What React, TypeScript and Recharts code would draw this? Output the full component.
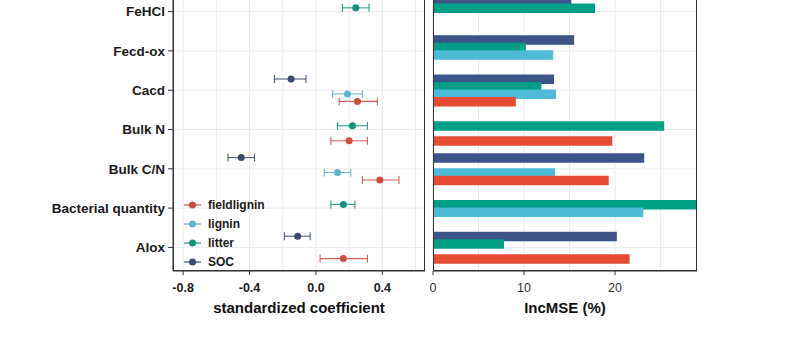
import {
  ScatterChart,
  Scatter,
  ErrorBar,
  BarChart,
  Bar,
  XAxis,
  YAxis,
  CartesianGrid,
} from "recharts";

const categories = [
  "FeHCl",
  "Fecd-ox",
  "Cacd",
  "Bulk N",
  "Bulk C/N",
  "Bacterial quantity",
  "Alox",
];

// standardized coefficients (point, lower, upper)
const socCoef = [null, null, -0.15, null, -0.45, null, -0.11];
const socLow = [null, null, -0.25, null, -0.53, null, -0.19];
const socHigh = [null, null, -0.06, null, -0.37, null, -0.035];
const litterCoef = [0.24, null, null, 0.22, null, 0.165, null];
const litterLow = [0.16, null, null, 0.13, null, 0.09, null];
const litterHigh = [0.32, null, null, 0.31, null, 0.235, null];
const ligninCoef = [null, null, 0.19, null, 0.13, null, null];
const ligninLow = [null, null, 0.1, null, 0.05, null, null];
const ligninHigh = [null, null, 0.28, null, 0.21, null, null];
const fieldCoef = [null, null, 0.25, 0.2, 0.385, null, 0.165];
const fieldLow = [null, null, 0.14, 0.09, 0.28, null, 0.025];
const fieldHigh = [null, null, 0.37, 0.31, 0.5, null, 0.31];

// IncMSE (%)
const socMse = [15.2, 15.5, 13.3, null, 23.2, null, 20.2];
const litterMse = [17.8, 10.2, 11.9, 25.4, null, 30, 7.8];
const ligninMse = [null, 13.2, 13.5, null, 13.4, 23.1, null];
const fieldMse = [null, null, 9.1, 19.7, 19.3, null, 21.6];

const coefDomain: [number, number] = [-0.861, 0.657];
const coefTicks = [-0.8, -0.4, 0, 0.4];
const coefGrid = [-0.8, -0.6, -0.4, -0.2, 0, 0.2, 0.4, 0.6];
const mseDomain: [number, number] = [0, 29];
const mseTicks = [0, 10, 20];
const mseGrid = [0, 5, 10, 15, 20, 25];

const FONT = "'Liberation Sans', Arial, sans-serif";

const COLORS = {
  SOC: "#3C5488",
  litter: "#00A087",
  lignin: "#4DBBD5",
  fieldlignin: "#E64B35",
};
const POINT = {
  SOC: "#3D4A6E",
  litter: "#15927A",
  lignin: "#5FB3C8",
  fieldlignin: "#CC4E3E",
};

const dodge = 0.19;

const makePoints = (
  coef: (number | null)[],
  low: (number | null)[],
  high: (number | null)[],
  slot: number,
) =>
  coef
    .map((c, i) =>
      c === null
        ? null
        : {
            x: c,
            y: i + (slot - 1.5) * dodge,
            err: [c - (low[i] as number), (high[i] as number) - c],
          },
    )
    .filter((d) => d !== null);

const socPts = makePoints(socCoef, socLow, socHigh, 0);
const litterPts = makePoints(litterCoef, litterLow, litterHigh, 1);
const ligninPts = makePoints(ligninCoef, ligninLow, ligninHigh, 2);
const fieldPts = makePoints(fieldCoef, fieldLow, fieldHigh, 3);

const barData = categories.map((name, i) => ({
  name,
  SOC: socMse[i],
  litter: litterMse[i],
  lignin: ligninMse[i],
  fieldlignin: fieldMse[i],
}));

const legendOrder = ["fieldlignin", "lignin", "litter", "SOC"] as const;

const Dot = (color: string) => (props: any) => (
  <circle cx={props.cx} cy={props.cy} r={3.5} fill={color} />
);

// vertical grid lines (major + minor) placed on the x scale
const gridX = (vals: number[], domain: [number, number]) => (p: any) => {
  const sc = p?.xAxis?.scale;
  if (typeof sc === "function") return vals.map((v) => sc(v));
  const left = p.offset.left;
  const w = p.offset.width;
  return vals.map((v) => left + ((v - domain[0]) / (domain[1] - domain[0])) * w);
};

const LegendBox = () => (
  <div style={{ fontFamily: FONT }}>
    {legendOrder.map((k) => (
      <div
        key={k}
        style={{ display: "flex", alignItems: "center", height: 19 }}
      >
        <svg width={18} height={12}>
          <line x1={0} x2={17} y1={6} y2={6} stroke={POINT[k]} strokeWidth={1.2} />
          <circle cx={8.5} cy={6} r={3.5} fill={POINT[k]} />
        </svg>
        <span
          style={{
            marginLeft: 6,
            fontSize: 12,
            fontWeight: "bold",
            color: "#1a1a1a",
          }}
        >
          {k}
        </span>
      </div>
    ))}
  </div>
);

const series = [
  { key: "SOC", pts: socPts },
  { key: "litter", pts: litterPts },
  { key: "lignin", pts: ligninPts },
  { key: "fieldlignin", pts: fieldPts },
] as const;

export default function App() {
  return (
    <div
      style={{
        position: "fixed",
        left: 0,
        top: 0,
        width: 798,
        height: 339,
        overflow: "hidden",
        background: "#fff",
        fontFamily: FONT,
      }}
    >
      <div style={{ position: "absolute", left: 0, top: -12 }}>
        <ScatterChart
          width={430}
          height={351}
          margin={{ top: 0, right: 5, bottom: 18, left: 0 }}
        >
          <CartesianGrid
            stroke="#EBEBEB"
            verticalCoordinatesGenerator={gridX(coefGrid, coefDomain)}
          />
          <XAxis
            type="number"
            dataKey="x"
            domain={coefDomain}
            ticks={coefTicks}
            interval={0}
            allowDataOverflow
            tickFormatter={(v: number) => v.toFixed(1)}
            tick={{ fontSize: 12.5, fontWeight: "bold", fill: "#1a1a1a", fontFamily: FONT }}
            tickSize={4}
            tickMargin={8}
            stroke="#333"
            height={50}
            label={{
              value: "standardized coefficient",
              position: "insideBottom",
              offset: 8,
              style: { fontSize: 15, fontWeight: "bold", fill: "#111", fontFamily: FONT },
            }}
          />
          <YAxis
            type="number"
            dataKey="y"
            domain={[-0.6, 6.6]}
            reversed
            ticks={[0, 1, 2, 3, 4, 5, 6]}
            interval={0}
            tickFormatter={(v: number) => categories[v]}
            tick={{ fontSize: 13.5, fontWeight: "bold", fill: "#1a1a1a", fontFamily: FONT }}
            tickSize={5}
            tickMargin={3}
            stroke="#333"
            width={173}
            allowDataOverflow
          />
          {series.map((s) => (
            <Scatter
              key={s.key}
              name={s.key}
              data={s.pts as any[]}
              fill={POINT[s.key]}
              shape={Dot(POINT[s.key])}
              isAnimationActive={false}
            >
              <ErrorBar
                dataKey="err"
                direction="x"
                width={4}
                stroke={POINT[s.key]}
                strokeWidth={1.1}
                strokeOpacity={0.9}
              />
            </Scatter>
          ))}
        </ScatterChart>
        <div style={{ position: "absolute", left: 184, top: 207 }}>
          <LegendBox />
        </div>
        <div
          style={{
            position: "absolute",
            left: 173,
            top: -2,
            width: 252,
            height: 285,
            border: "1.2px solid #333",
            boxSizing: "border-box",
            pointerEvents: "none",
          }}
        />
      </div>

      <div style={{ position: "absolute", left: 425, top: -12 }}>
        <BarChart
          layout="vertical"
          width={373}
          height={351}
          data={barData}
          margin={{ top: 0, right: 101, bottom: 18, left: 8 }}
          barSize={9.5}
          barGap={-2}
        >
          <CartesianGrid
            stroke="#EBEBEB"
            verticalCoordinatesGenerator={gridX(mseGrid, mseDomain)}
          />
          <XAxis
            type="number"
            domain={mseDomain}
            ticks={mseTicks}
            interval={0}
            allowDataOverflow
            tick={{ fontSize: 12.5, fill: "#333", fontFamily: FONT }}
            tickSize={4}
            tickMargin={8}
            stroke="#333"
            height={50}
            label={{
              value: "IncMSE (%)",
              position: "insideBottom",
              offset: 8,
              style: { fontSize: 15, fontWeight: "bold", fill: "#111", fontFamily: FONT },
            }}
          />
          <YAxis
            type="category"
            dataKey="name"
            hide
            padding={{ top: 3.9, bottom: 3.9 }}
          />
          <Bar dataKey="SOC" fill={COLORS.SOC} isAnimationActive={false} />
          <Bar dataKey="litter" fill={COLORS.litter} isAnimationActive={false} />
          <Bar dataKey="lignin" fill={COLORS.lignin} isAnimationActive={false} />
          <Bar
            dataKey="fieldlignin"
            fill={COLORS.fieldlignin}
            isAnimationActive={false}
          />
        </BarChart>
        <div
          style={{
            position: "absolute",
            left: 8,
            top: -2,
            width: 264,
            height: 285,
            border: "1.2px solid #333",
            boxSizing: "border-box",
            pointerEvents: "none",
          }}
        />
      </div>
    </div>
  );
}
